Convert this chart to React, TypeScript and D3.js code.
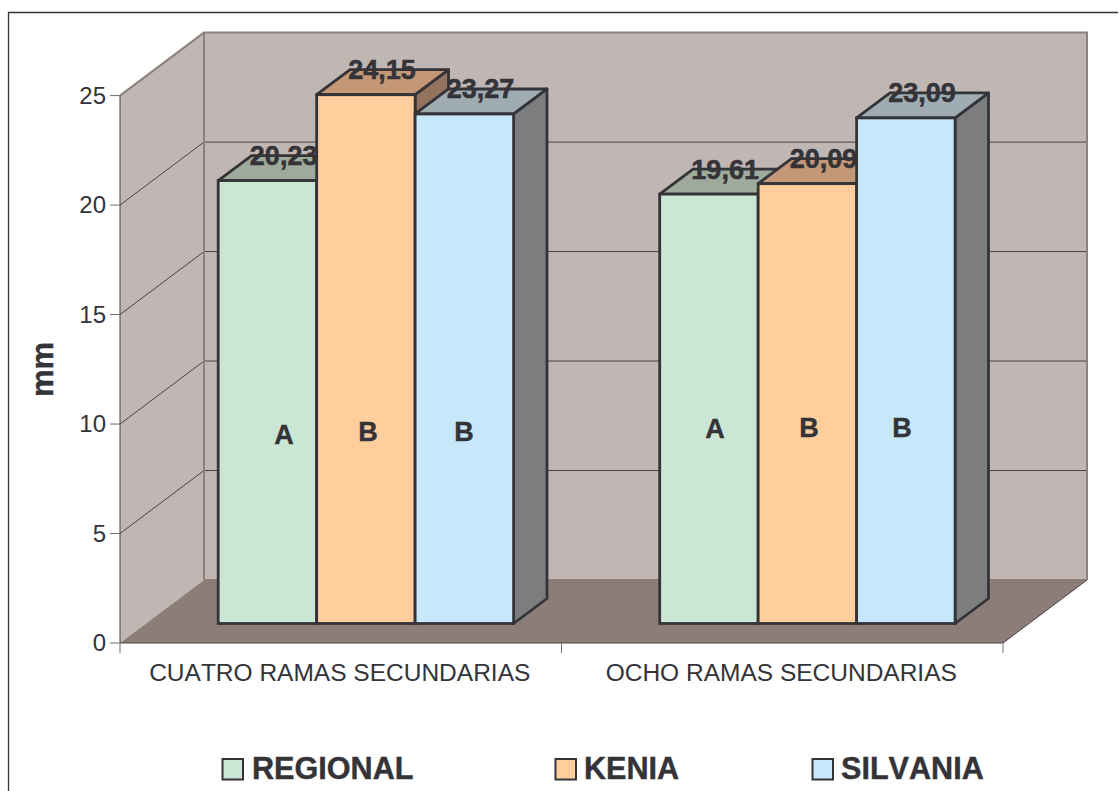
import * as d3 from "d3";

const categories = ["CUATRO RAMAS SECUNDARIAS", "OCHO RAMAS SECUNDARIAS"];
const seriesNames = ["REGIONAL", "KENIA", "SILVANIA"];
const regionalValues = [20.23, 19.61];
const keniaValues = [24.15, 20.09];
const silvaniaValues = [23.27, 23.09];
const significanceLetters = [
  ["A", "B", "B"],
  ["A", "B", "B"],
];
const yTicks = [0, 5, 10, 15, 20, 25];

const seriesValues = [regionalValues, keniaValues, silvaniaValues];
const frontColors = ["#CCE6D5", "#FFCE9C", "#C6E8FA"];
const topColors = ["#9EAA9B", "#C49876", "#9FADB3"];
const sideColors = ["#7E8A7C", "#94735E", "#7C7D7F"];

const INK = "#333338";
const WALL = "#C0B6B3";
const WALL_EDGE = "#8F807C";
const FLOOR = "#8C7D79";
const FONT = "'Liberation Sans', Arial, sans-serif";

// Chart box: front plane of the 3D plot and the shift to its back plane.
const x0 = 120;
const x1 = 1003;
const yBase = 643;
const yTop = 95.6;
const wallDx = 84;
const wallDy = -63;
// Bars stand part-way into the depth of the floor.
const barBaseShift = -19.5;
const barDx = 33.4;
const barDy = -25;

const y = d3.scaleLinear().domain([0, 25]).range([yBase, yTop]);
const xGroup = d3.scaleBand<string>().domain(categories).range([x0, x1]);
const xBar = d3.scaleBand<string>().domain(seriesNames).range([98.2, 393.6]);

const letterOffsets = [
  [434, 431, 431],
  [428, 427, 427],
];
const letterCenters = [
  [284, 368, 464],
  [715, 809, 902],
];
const legendBoxes = [
  { swatch: 222.5, text: 252 },
  { swatch: 555.5, text: 584 },
  { swatch: 812.5, text: 841 },
];

const poly = (pts: [number, number][]) => d3.line()(pts) + "Z";

export default function App() {
  const backTop = yTop + wallDy;
  const backBase = yBase + wallDy;
  const bw = xBar.bandwidth();
  const bars = categories.flatMap((cat, c) =>
    seriesNames.map((name, s) => {
      const left = xGroup(cat)! + xBar(name)!;
      const value = seriesValues[s][c];
      return {
        key: `${cat}-${name}`,
        s,
        value,
        left,
        right: left + bw,
        top: y(value) + barBaseShift,
        base: yBase + barBaseShift,
      };
    })
  );

  return (
    <svg
      width={1119}
      height={791}
      viewBox="0 0 1119 791"
      style={{ position: "absolute", left: 0, top: 0, background: "#fff", fontKerning: "none" }}
      fontFamily={FONT}
    >
      {/* outer frame, open at the page edges */}
      <path d="M8.5,791V12.5H1118" fill="none" stroke={INK} strokeWidth={1.3} />

      {/* walls and floor */}
      <path
        d={poly([
          [x0, yTop],
          [x0 + wallDx, backTop],
          [x0 + wallDx, backBase],
          [x0, yBase],
        ])}
        fill={WALL}
      />
      <rect x={x0 + wallDx} y={backTop} width={x1 - x0} height={backBase - backTop} fill={WALL} />

      {/* gridlines across back wall and side wall */}
      {yTicks
        .filter((t) => t > 0 && t < 25)
        .map((t) => (
          <path
            key={t}
            d={`M${x0},${y(t)}L${x0 + wallDx},${y(t) + wallDy}H${x1 + wallDx}`}
            fill="none"
            stroke="#4A4243"
            strokeWidth={1}
          />
        ))}

      {/* wall outlines */}
      <path
        d={`M${x0},${yTop}L${x0 + wallDx},${backTop}H${x1 + wallDx}V${backBase}`}
        fill="none"
        stroke={WALL_EDGE}
        strokeWidth={2}
      />
      <path d={`M${x0 + wallDx},${backTop}V${backBase}`} stroke={WALL_EDGE} strokeWidth={2} />

      {/* floor, its back edge thickened over the foot of the wall */}
      <path
        d={poly([
          [x0, yBase],
          [x0 + wallDx, backBase],
          [x1 + wallDx, backBase],
          [x1, yBase],
        ])}
        fill={FLOOR}
      />
      <path d={`M${x0 + wallDx},${backBase}H${x1 + wallDx}`} stroke={FLOOR} strokeWidth={2} />
      <path
        d={`M${x0},${yTop}V${yBase}H${x1}L${x1 + wallDx},${backBase}`}
        fill="none"
        stroke="#4A4243"
        strokeWidth={1}
      />

      {/* y axis */}
      {yTicks.map((t) => (
        <g key={t}>
          <line x1={x0 - 10} x2={x0} y1={y(t)} y2={y(t)} stroke="#6E6E6E" strokeWidth={1} />
          <text x={106} y={y(t) + 8} textAnchor="end" fontSize={24} fill={INK}>
            {t}
          </text>
        </g>
      ))}

      {/* category axis */}
      {[x0, x0 + xGroup.step(), x1].map((tx) => (
        <line key={tx} x1={tx} x2={tx} y1={yBase} y2={yBase + 10} stroke="#6E6E6E" strokeWidth={1} />
      ))}
      {categories.map((cat) => (
        <text
          key={cat}
          x={xGroup(cat)! + xGroup.bandwidth() / 2 - 1}
          y={681}
          textAnchor="middle"
          fontSize={24.5}
          fill={INK}
        >
          {cat}
        </text>
      ))}

      <text
        transform="translate(52.5,369.5) rotate(-90)"
        textAnchor="middle"
        fontSize={31}
        fontWeight="bold"
        fill={INK}
        stroke={INK}
        strokeWidth={0.4}
      >
        mm
      </text>

      {/* bars: side, top, then front face */}
      {bars.map((b) => (
        <g key={b.key} stroke={INK} strokeWidth={2.8} strokeLinejoin="round">
          <path
            d={poly([
              [b.right, b.top],
              [b.right + barDx, b.top + barDy],
              [b.right + barDx, b.base + barDy],
              [b.right, b.base],
            ])}
            fill={sideColors[b.s]}
          />
          <path
            d={poly([
              [b.left, b.top],
              [b.left + barDx, b.top + barDy],
              [b.right + barDx, b.top + barDy],
              [b.right, b.top],
            ])}
            fill={topColors[b.s]}
          />
        </g>
      ))}
      {bars.map((b) => (
        <rect
          key={b.key}
          x={b.left}
          y={b.top}
          width={bw}
          height={b.base - b.top}
          fill={frontColors[b.s]}
          stroke={INK}
          strokeWidth={2.8}
        />
      ))}

      {/* value labels */}
      {bars.map((b) => (
        <text
          key={b.key}
          x={(b.left + b.right) / 2 + barDx / 2 - 0.5}
          y={b.top - 15.5}
          textAnchor="middle"
          fontSize={27}
          fontWeight="bold"
          fill={INK}
          stroke={INK}
          strokeWidth={0.5}
        >
          {b.value.toFixed(2).replace(".", ",")}
        </text>
      ))}

      {/* significance letters */}
      {significanceLetters.map((row, c) =>
        row.map((letter, s) => (
          <text
            key={`${c}-${s}`}
            x={letterCenters[c][s]}
            y={letterOffsets[c][s] + 9.5}
            textAnchor="middle"
            fontSize={27}
            fontWeight="bold"
            fill={INK}
            stroke={INK}
            strokeWidth={0.4}
          >
            {letter}
          </text>
        ))
      )}

      {/* legend */}
      {seriesNames.map((name, s) => (
        <g key={name}>
          <rect
            x={legendBoxes[s].swatch}
            y={759}
            width={20.5}
            height={20.5}
            fill={frontColors[s]}
            stroke={INK}
            strokeWidth={2}
          />
          <text
            x={legendBoxes[s].text}
            y={779}
            fontSize={30.6}
            fontWeight="bold"
            fill={INK}
            stroke={INK}
            strokeWidth={0.4}
          >
            {name}
          </text>
        </g>
      ))}
    </svg>
  );
}
